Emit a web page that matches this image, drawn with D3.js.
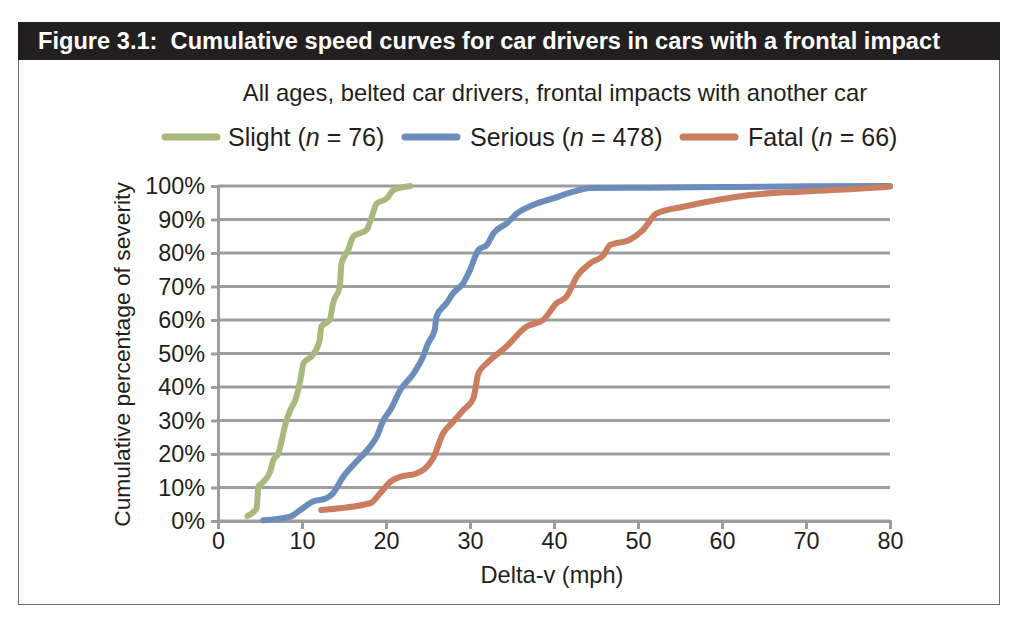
<!DOCTYPE html>
<html>
<head>
<meta charset="utf-8">
<script src="https://cdn.jsdelivr.net/npm/d3@7"></script>
<style>
  body { margin: 0; background: #fff; font-family: "Liberation Sans", Arial, sans-serif; }
</style>
</head>
<body>
<div id="chart"></div>
<script>
// series values: [delta-v mph, cumulative %]
const slight = [[3.5,1.5],[4.6,3.8],[4.8,10.2],[5.4,11.7],[6.2,14.7],[6.6,18.2],[7.2,20.3],[7.6,24.2],[8.0,28.7],[8.6,33.1],[9.2,36.1],[9.8,42],[10.2,47.2],[11.3,49.6],[12.1,54],[12.3,58],[13.3,60],[13.7,65],[14.5,70],[14.7,76.9],[15.5,80.9],[16.1,84.9],[17.7,86.9],[18.3,90.8],[18.9,94.8],[20.1,96.3],[20.9,98.8],[22.9,100]];
const serious = [[5.4,0.2],[8.6,1.3],[9.8,3.3],[11.3,5.8],[12.9,6.8],[13.7,8.3],[14.9,13.2],[16.1,16.7],[18.1,22.2],[18.9,25.2],[19.7,30.1],[20.5,33.1],[21.7,39.1],[23.3,44.1],[24.4,49],[25.0,53],[25.8,57],[26.0,61],[27.2,65],[28.0,68],[29.2,71],[30.0,74.9],[31.0,80.9],[32.0,82.4],[32.8,85.9],[34.4,88.9],[35.6,91.8],[37.5,94.3],[39.9,96.3],[42.3,98.3],[44.3,99.4],[51.4,99.5],[60,99.7],[70,99.9],[80,100]];
const fatal = [[12.3,3.3],[18.1,5.3],[19.3,8.3],[20.5,11.7],[21.7,13.2],[23.6,14.2],[25.6,18.7],[26.8,26.2],[28.0,29.6],[29.2,33.1],[30.4,36.6],[31.0,44.1],[32.0,47.1],[34.3,52],[36.7,58],[38.7,60],[40.3,65],[41.5,67],[42.7,72.9],[44.3,76.9],[45.9,79.4],[46.7,82.4],[49.0,83.9],[50.6,86.9],[52.2,91.8],[55.4,93.8],[59.4,95.8],[63.3,97.3],[69.3,98.3],[75.2,99.0],[80,99.8]];

const seriesNames = ["Slight", "Serious", "Fatal"];
const seriesN = [76, 478, 66];
const seriesColors = ["#a9b87d", "#6c8cbc", "#cb7d5f"];
const seriesData = [slight, serious, fatal];

const xTicks = [0, 10, 20, 30, 40, 50, 60, 70, 80];
const yTicks = [0, 10, 20, 30, 40, 50, 60, 70, 80, 90, 100];

const titleText = "Figure 3.1:  Cumulative speed curves for car drivers in cars with a frontal impact";
const subtitleText = "All ages, belted car drivers, frontal impacts with another car";

const W = 1018, H = 629;
const svg = d3.select("#chart").append("svg")
    .attr("width", W)
    .attr("height", H);

// frame and title bar
svg.append("rect")
    .attr("x", 18.5).attr("y", 22.5)
    .attr("width", 981).attr("height", 582)
    .attr("fill", "none").attr("stroke", "#6d6e71").attr("stroke-width", 1);
svg.append("rect")
    .attr("x", 18).attr("y", 22)
    .attr("width", 982).attr("height", 38)
    .attr("fill", "#231f20");
svg.append("text")
    .attr("x", 38).attr("y", 49)
    .attr("fill", "#fff")
    .attr("font-size", 23.5)
    .attr("font-weight", "bold")
    .attr("textLength", 902)
    .attr("lengthAdjust", "spacingAndGlyphs")
    .style("white-space", "pre")
    .text(titleText);

svg.append("text")
    .attr("x", 555).attr("y", 101)
    .attr("text-anchor", "middle")
    .attr("font-size", 23.8)
    .attr("fill", "#231f20")
    .text(subtitleText);

// legend
const legendPos = [{line: 165, text: 228}, {line: 405, text: 470}, {line: 683, text: 748}];
const legend = svg.append("g");
seriesNames.forEach(function (name, i) {
    legend.append("line")
        .attr("x1", legendPos[i].line).attr("x2", legendPos[i].line + 52)
        .attr("y1", 137).attr("y2", 137)
        .attr("stroke", seriesColors[i]).attr("stroke-width", 7)
        .attr("stroke-linecap", "round");
    const t = legend.append("text")
        .attr("x", legendPos[i].text).attr("y", 146)
        .attr("font-size", 25)
        .attr("fill", "#231f20");
    t.append("tspan").text(name + " (");
    t.append("tspan").attr("font-style", "italic").text("n");
    t.append("tspan").text(" = " + seriesN[i] + ")");
});

// plot area
const margin = {left: 218, top: 186, right: 128, bottom: 108};
const g = svg.append("g")
    .attr("transform", "translate(" + margin.left + "," + margin.top + ")");

const x = d3.scaleLinear().domain([0, 80]).range([0, 672]);
const y = d3.scaleLinear().domain([0, 100]).range([335, 0]);

// gridlines
g.append("g")
    .selectAll("line")
    .data(yTicks)
    .join("line")
    .attr("x1", 0).attr("x2", x(80))
    .attr("y1", d => y(d)).attr("y2", d => y(d))
    .attr("stroke", "#9d9d9d").attr("stroke-width", 3);

// y axis
const yAxis = g.append("g")
    .call(d3.axisLeft(y).tickValues(yTicks).tickFormat(d => d + "%").tickSize(7).tickPadding(6));
yAxis.select(".domain").attr("stroke", "#9d9d9d").attr("stroke-width", 3);
yAxis.selectAll(".tick line").attr("stroke", "#9d9d9d").attr("stroke-width", 3);
yAxis.selectAll("text").attr("font-size", 23.4).attr("fill", "#231f20")
    .attr("font-family", "Liberation Sans, Arial, sans-serif");

// x axis
const xAxis = g.append("g")
    .attr("transform", "translate(0," + y(0) + ")")
    .call(d3.axisBottom(x).tickValues(xTicks).tickSize(8).tickPadding(3));
xAxis.select(".domain").attr("stroke", "#9d9d9d").attr("stroke-width", 3);
xAxis.selectAll(".tick line").attr("stroke", "#9d9d9d").attr("stroke-width", 3);
xAxis.selectAll("text").attr("font-size", 23.4).attr("fill", "#231f20")
    .attr("font-family", "Liberation Sans, Arial, sans-serif");

// axis titles
g.append("text")
    .attr("x", x(40) - 2).attr("y", y(0) + 62)
    .attr("text-anchor", "middle")
    .attr("font-size", 23.6).attr("fill", "#231f20")
    .text("Delta-v (mph)");
g.append("text")
    .attr("transform", "translate(-88," + (y(50) + 1) + ") rotate(-90)")
    .attr("text-anchor", "middle")
    .attr("font-size", 22.8).attr("fill", "#231f20")
    .text("Cumulative percentage of severity");

// curves
const line = d3.line()
    .curve(d3.curveMonotoneX)
    .x(d => x(d[0]))
    .y(d => y(d[1]));

seriesData.forEach(function (data, i) {
    g.append("path")
        .datum(data)
        .attr("d", line)
        .attr("fill", "none")
        .attr("stroke", seriesColors[i])
        .attr("stroke-width", 6)
        .attr("stroke-linejoin", "round")
        .attr("stroke-linecap", "round");
});
</script>
</body>
</html>
